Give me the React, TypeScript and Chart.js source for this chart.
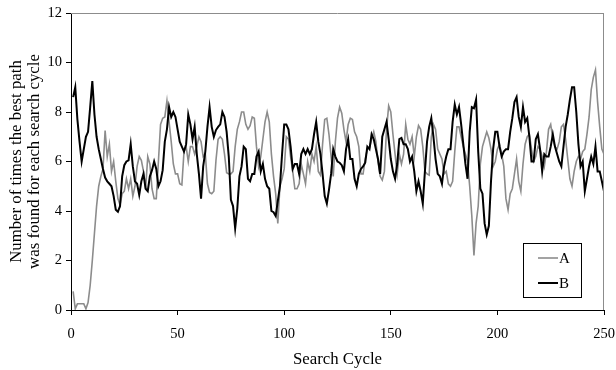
import React, { useEffect, useRef } from "react";
import { Chart, registerables } from "chart.js";

Chart.register(...registerables);

const SERIES_NAMES = ["A", "B"];
const SERIES_COLORS = ["#8c8c8c", "#000000"];
const X_TITLE = "Search Cycle";
const Y_TITLE = ["Number of times the best path", "was found for each search cycle"];
const X_MIN = 0;
const X_MAX = 250;
const X_STEP = 50;
const Y_MIN = 0;
const Y_MAX = 12;
const Y_STEP = 2;

// value for search cycle 1..250
const A_VALUES = [
  0.75, 0.05, 0.25, 0.25, 0.25, 0.25, 0.05, 0.3, 1.0, 2.0,
  3.1, 4.2, 5.0, 5.4, 5.7, 7.25, 6.2, 6.7, 5.6, 6.0,
  5.2, 4.5, 4.25, 4.7, 4.8, 5.3, 4.9, 5.3, 4.6, 5.0,
  5.8, 6.2, 6.05, 5.6, 4.9, 6.2, 5.9, 4.9, 4.5, 4.5,
  6.0, 7.5, 7.75, 7.8, 8.45, 7.6, 6.8, 5.9, 5.5, 5.5,
  5.1, 5.05, 6.4, 6.6, 6.0, 6.6, 6.6, 6.3, 6.6, 7.0,
  6.8, 6.2, 6.3, 5.1, 4.75, 4.7, 4.8, 6.05, 6.9, 7.0,
  6.9, 6.3, 5.55, 5.5, 5.5, 5.6, 6.6, 7.3, 7.6, 8.0,
  8.0, 7.5, 7.3, 7.45, 7.8, 7.75, 6.6, 5.8, 6.2, 6.9,
  7.6, 8.0, 7.6, 6.3, 5.4, 4.7, 3.5, 5.0, 5.3, 5.7,
  7.0, 6.9, 6.2, 5.6, 4.9, 4.9, 5.1, 5.9, 5.5, 5.1,
  6.0, 5.6, 6.3, 6.0, 6.6, 5.6, 5.45, 6.7, 7.7, 7.75,
  7.1, 6.2, 5.4, 6.8, 7.75, 8.2, 7.95, 7.3, 6.8, 7.5,
  7.75, 7.7, 7.2, 7.0, 6.6, 5.5, 5.5, 6.1, 6.5, 6.55,
  6.9, 7.2, 6.8, 6.0, 5.4, 5.25, 5.6, 7.3, 8.25, 8.0,
  7.1, 6.3, 5.5, 6.3, 5.9, 6.3, 7.5, 6.9, 6.7, 7.0,
  6.2, 7.0, 7.45, 7.3, 6.6, 5.6, 5.5, 5.45, 7.0, 7.5,
  7.3, 6.5, 6.3, 6.1, 5.5, 5.6, 5.1, 5.0, 5.2, 6.4,
  7.4, 7.4, 7.0, 6.6, 6.3, 6.0, 5.0, 3.8, 2.2, 3.5,
  4.2, 5.9, 6.6, 6.9, 7.2, 6.95, 6.5, 5.8, 6.0, 6.5,
  6.7, 6.3, 5.8, 4.5, 4.05, 4.7, 4.9, 5.5, 6.1, 5.2,
  4.8, 5.9, 6.7, 7.0, 7.1, 6.5, 6.0, 6.2, 6.6, 6.5,
  6.2, 5.8, 6.4, 7.3, 7.5, 6.9, 6.6, 6.5, 6.8, 7.4,
  7.5, 6.9, 6.1, 5.3, 5.0, 5.6, 6.0, 6.2, 6.1, 6.4,
  6.5, 7.1, 7.8, 8.9, 9.4, 9.7, 8.4, 7.4, 6.5, 6.3,
];

const B_VALUES = [
  8.6, 9.0, 7.7, 6.8, 6.0, 6.5, 7.0, 7.2, 8.2, 9.25,
  7.9, 7.0, 6.5, 6.1, 5.7, 5.35, 5.2, 5.1, 5.0, 4.6,
  4.05, 3.97, 4.2, 5.4, 5.85, 6.0, 6.05, 6.7, 5.8, 5.2,
  5.1, 4.65, 5.2, 5.5, 4.9, 4.8, 5.4, 5.65, 6.0, 5.7,
  5.0, 5.2, 5.65, 6.8, 7.3, 8.2, 7.8, 8.0, 7.8, 7.3,
  6.8, 6.6, 6.4, 6.7, 7.9, 7.5, 6.9, 7.4, 6.3, 5.5,
  4.5, 5.8, 6.4, 7.4, 8.2, 7.4, 7.0, 7.27, 7.4, 7.5,
  8.0, 7.8, 7.2, 6.2, 4.45, 4.2, 3.3, 4.1, 5.4, 5.8,
  6.6, 6.5, 5.3, 5.2, 5.5, 5.5, 6.2, 6.4, 5.6, 5.9,
  5.3, 5.0, 4.9, 4.0, 3.95, 3.8, 4.4, 5.0, 6.3, 7.5,
  7.5, 7.3, 6.6, 5.7, 5.9, 5.9, 5.5, 6.3, 6.5, 6.3,
  6.5, 6.3, 6.5, 7.1, 7.6, 6.8, 6.3, 5.5, 4.6, 4.3,
  4.85, 5.5, 6.5, 6.2, 6.0, 5.95, 5.85, 5.6, 6.5, 6.9,
  6.1, 6.1, 5.3, 5.0, 5.5, 5.7, 5.8, 5.95, 6.6, 6.5,
  7.1, 6.9, 6.5, 6.1, 5.5, 7.0, 7.3, 7.6, 6.9, 6.1,
  5.6, 5.3, 5.9, 6.9, 6.95, 6.7, 6.7, 6.5, 6.0, 6.2,
  5.6, 4.8, 5.2, 4.8, 4.3, 5.6, 6.8, 7.4, 7.75, 7.0,
  6.1, 5.5, 5.4, 5.1, 5.8, 6.2, 6.5, 6.5, 7.6, 8.3,
  7.9, 8.2, 7.5, 6.7, 5.9, 5.3, 7.2, 8.2, 8.15, 8.5,
  6.4, 4.9, 4.7, 3.5, 3.05, 3.4, 5.2, 6.5, 7.2, 7.2,
  6.6, 6.2, 6.4, 6.5, 6.5, 7.2, 7.75, 8.4, 8.6, 7.8,
  7.4, 8.2, 7.6, 7.75, 7.0, 6.0, 6.0, 6.9, 7.1, 6.5,
  5.6, 6.3, 6.2, 6.2, 6.6, 7.1, 6.6, 6.3, 6.0, 5.8,
  6.6, 7.4, 7.9, 8.5, 9.0, 9.0, 8.0, 6.7, 5.8, 6.0,
  4.8, 5.3, 5.8, 6.2, 5.9, 6.6, 5.6, 5.6, 5.2, 4.8,
];

const FONT_FAMILY = "'Liberation Serif', 'Times New Roman', serif";

const framePlugin = {
  id: "frameAndLegend",
  afterDatasetsDraw(chart: any) {
    const { ctx, chartArea } = chart;
    const { left, right, top, bottom } = chartArea;
    ctx.save();
    // gray top / right border of the plot area
    ctx.strokeStyle = "#8c8c8c";
    ctx.lineWidth = 1;
    ctx.beginPath();
    ctx.moveTo(left, top + 0.5);
    ctx.lineTo(right, top + 0.5);
    ctx.moveTo(right - 0.5, top);
    ctx.lineTo(right - 0.5, bottom);
    ctx.stroke();

    // legend box
    const bx = right - 81;
    const by = bottom - 67;
    const bw = 59;
    const bh = 55;
    ctx.fillStyle = "#ffffff";
    ctx.fillRect(bx, by, bw, bh);
    ctx.strokeStyle = "#000000";
    ctx.lineWidth = 1;
    ctx.strokeRect(bx + 0.5, by + 0.5, bw - 1, bh - 1);

    ctx.font = `15px ${FONT_FAMILY}`;
    ctx.textBaseline = "middle";
    ctx.textAlign = "left";
    SERIES_NAMES.forEach((name, i) => {
      const ly = by + 15 + i * 25;
      ctx.strokeStyle = SERIES_COLORS[i];
      ctx.lineWidth = i === 0 ? 1.6 : 2;
      ctx.beginPath();
      ctx.moveTo(bx + 15, ly);
      ctx.lineTo(bx + 35, ly);
      ctx.stroke();
      ctx.fillStyle = "#000000";
      ctx.fillText(name, bx + 36, ly + 1);
    });
    ctx.restore();
  },
};

export default function App() {
  const canvasRef = useRef<HTMLCanvasElement | null>(null);

  useEffect(() => {
    const canvas = canvasRef.current;
    if (!canvas) return;
    const seriesValues = [A_VALUES, B_VALUES];
    const chart = new Chart(canvas, {
      type: "line",
      data: {
        datasets: SERIES_NAMES.map((name, i) => ({
          label: name,
          data: seriesValues[i].map((v, idx) => ({ x: idx + 1, y: v })),
          borderColor: SERIES_COLORS[i],
          backgroundColor: SERIES_COLORS[i],
          borderWidth: i === 0 ? 1.6 : 2,
          pointRadius: 0,
          tension: 0,
          fill: false,
          order: i === 0 ? 2 : 1,
        })),
      },
      options: {
        animation: false,
        responsive: false,
        devicePixelRatio: 1,
        layout: { padding: { left: 0, top: 13, right: 12, bottom: 0 } },
        plugins: {
          legend: { display: false },
          tooltip: { enabled: false },
        },
        scales: {
          x: {
            type: "linear",
            min: X_MIN,
            max: X_MAX,
            afterFit: (axis: any) => {
              axis.height = 60;
            },
            ticks: {
              stepSize: X_STEP,
              padding: 1,
              color: "#000",
              font: { family: FONT_FAMILY, size: 14.5, lineHeight: 2.45 },
              maxRotation: 0,
            },
            grid: {
              display: true,
              drawOnChartArea: false,
              drawTicks: true,
              tickLength: 5,
              color: "#000",
            },
            border: { display: true, color: "#000", width: 1 },
            title: {
              display: true,
              text: X_TITLE,
              color: "#000",
              font: { family: FONT_FAMILY, size: 16.8, lineHeight: 1.2 },
              padding: { top: 0, bottom: 0 },
            },
          },
          y: {
            type: "linear",
            min: Y_MIN,
            max: Y_MAX,
            afterFit: (axis: any) => {
              axis.width = 71;
            },
            ticks: {
              stepSize: Y_STEP,
              padding: 4,
              color: "#000",
              font: { family: FONT_FAMILY, size: 14.5 },
            },
            grid: {
              display: true,
              drawOnChartArea: false,
              drawTicks: true,
              tickLength: 5,
              color: "#000",
            },
            border: { display: true, color: "#000", width: 1 },
            title: {
              display: true,
              text: Y_TITLE,
              color: "#000",
              font: { family: FONT_FAMILY, size: 16.8, lineHeight: 1.05 },
              padding: { top: 8, bottom: 0 },
            },
          },
        },
      },
      plugins: [framePlugin],
    });
    return () => chart.destroy();
  }, []);

  return (
    <div style={{ position: "absolute", left: 0, top: 0, width: 616, height: 370, background: "#fff" }}>
      <canvas ref={canvasRef} width={616} height={370} style={{ width: 616, height: 370 }} />
    </div>
  );
}
